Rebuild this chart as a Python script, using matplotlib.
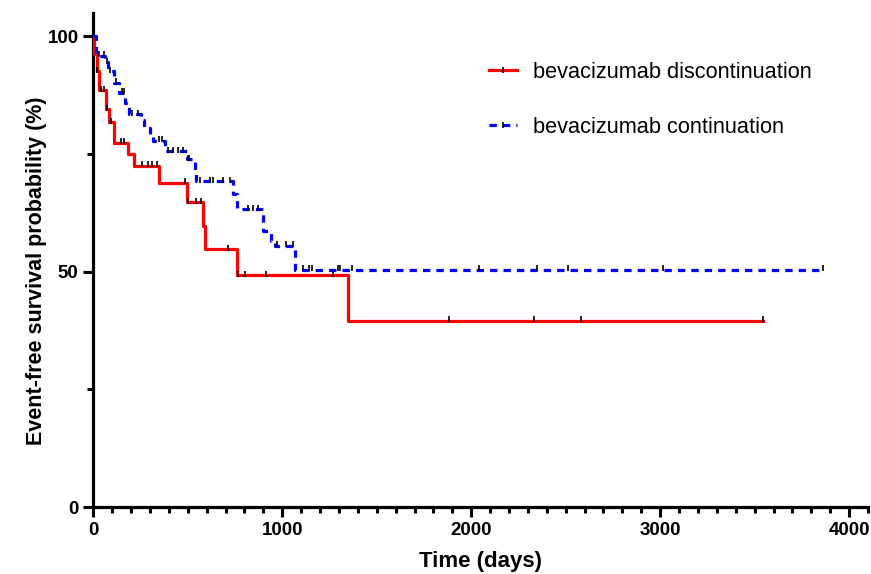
import numpy as np
import matplotlib
matplotlib.use("Agg")
import matplotlib.pyplot as plt
from matplotlib.lines import Line2D
from matplotlib.ticker import MultipleLocator

plt.rcParams['font.family'] = ['Liberation Sans', 'DejaVu Sans']

# ---- data ----
disc_times = [0, 4, 18, 30, 66, 83, 111, 185, 217, 348, 497, 579, 591, 762, 1346, 3542]
disc_surv = [100, 96.2, 92.6, 88.5, 84.5, 81.8, 77.4, 74.9, 72.5, 68.9, 64.7, 59.7, 54.8, 49.3, 39.6, 39.6]
disc_censor = [20, 40, 55, 75, 95, 147, 165, 259, 288, 309, 335, 485, 502, 543, 568,
               712, 767, 803, 914, 1267, 1882, 2330, 2581, 3542]

cont_times = [0, 15, 62, 80, 110, 135, 170, 190, 250, 270, 300, 318, 380, 494, 538, 543,
              741, 760, 900, 939, 960, 1067, 3862]
cont_surv = [100, 95.9, 94.5, 92.6, 90.1, 88.0, 85.9, 83.4, 82.3, 80.6, 79.3, 77.8, 75.6,
             73.9, 71.5, 69.2, 66.5, 63.3, 58.7, 56.5, 55.5, 50.4, 50.4]
cont_censor = [30, 55, 70, 90, 120, 150, 160, 203, 238, 348, 365, 396, 420, 450, 475, 500, 505,
               565, 617, 635, 688, 723, 820, 847, 873, 970, 1020, 1058,
               1111, 1143, 1156, 1296, 1305, 1367, 2041, 2346, 2510, 3016, 3862]

x_ticks = [0, 1000, 2000, 3000, 4000]
y_ticks = [0, 50, 100]
label_disc = "bevacizumab discontinuation"
label_cont = "bevacizumab continuation"

RED = "#ff0000"
BLUE = "#0000ff"
DASH = (0, (2.3, 1.9))


def surv_at(times, surv, t):
    idx = np.searchsorted(np.asarray(times), t, side='right') - 1
    return np.asarray(surv)[idx]


fig = plt.figure(figsize=(8.71, 5.74), dpi=100)
ax = fig.add_axes([93.3 / 871, 1 - 507 / 574, (868 - 93.3) / 871, (507 - 12.7) / 574])

ax.step(disc_times, disc_surv, where='post', color=RED, lw=2.3, zorder=3)
ax.step(cont_times, cont_surv, where='post', color=BLUE, lw=2.3, zorder=3,
        linestyle=DASH)

ax.plot(disc_censor, surv_at(disc_times, disc_surv, disc_censor) + 0.3, linestyle='none',
        marker='|', markersize=5, markeredgewidth=1.2, color='black', zorder=4)
ax.plot(cont_censor, surv_at(cont_times, cont_surv, cont_censor) + 0.3, linestyle='none',
        marker='|', markersize=5, markeredgewidth=1.2, color='black', zorder=4)

ax.set_xlim(0, 4100)
ax.set_ylim(0, 105)
ax.set_xticks(x_ticks)
ax.set_yticks(y_ticks)
ax.xaxis.set_minor_locator(MultipleLocator(100))
ax.yaxis.set_minor_locator(MultipleLocator(25))

for s in ['top', 'right']:
    ax.spines[s].set_visible(False)
for s in ['left', 'bottom']:
    ax.spines[s].set_linewidth(2.3)
ax.spines['bottom'].set_bounds(0, 4100)
ax.spines['left'].set_bounds(0, 105)

ax.tick_params(which='major', length=7.5, width=2.2, labelsize=13.5, pad=3)
ax.tick_params(which='minor', length=4.5, width=2.2)
for lab in ax.get_xticklabels() + ax.get_yticklabels():
    lab.set_fontweight('bold')

ax.set_xlabel("Time (days)", fontsize=16, fontweight='bold', labelpad=9)
ax.set_ylabel("Event-free survival probability (%)", fontsize=15.5, fontweight='bold',
              va='center')
ax.yaxis.set_label_coords((37 - 93.3) / 774.7, (507 - 271) / 494.3)

h1 = Line2D([], [], color=RED, lw=2.3, marker='|', markersize=5,
            markeredgecolor='black', markeredgewidth=1.2)
h2 = Line2D([], [], color=BLUE, lw=2.3, linestyle=DASH, marker='|', markersize=5,
            markeredgecolor='black', markeredgewidth=1.2)
fig.legend([h1, h2], [label_disc, label_cont], loc='upper left',
           bbox_to_anchor=(489 / 871, 1 - 62 / 574), frameon=False, fontsize=15.7,
           handlelength=1.3, handletextpad=0.72, labelspacing=1.55, borderpad=0,
           borderaxespad=0, numpoints=1)

fig.savefig("out.png", dpi=100)
